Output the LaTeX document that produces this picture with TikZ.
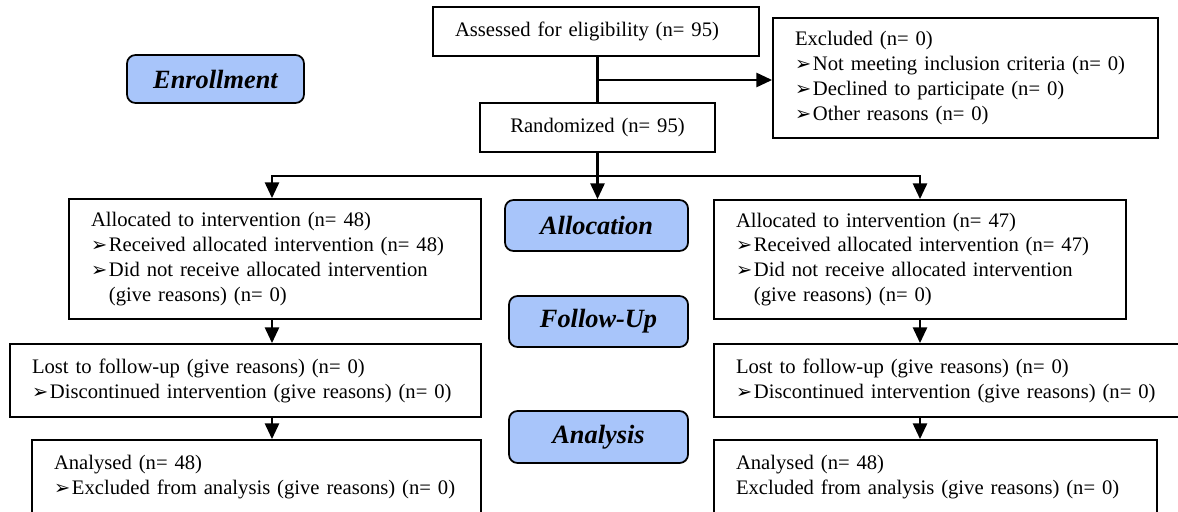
\documentclass[tikz,border=0pt]{standalone}
\usepackage{fontspec}
\setmainfont{Liberation Serif}
\newfontfamily\dejavu{DejaVu Sans}
\usetikzlibrary{arrows.meta}
\definecolor{stageblue}{RGB}{168,197,250}
\newcommand{\bul}{\makebox[10.2pt][l]{\smash{\dejavu\fontsize{11}{11}\selectfont ➢}}}
\newcommand{\ind}{\hspace*{10.2pt}}

\begin{document}
\begin{tikzpicture}[
    box/.style={draw, line width=1pt, inner xsep=0.44cm, inner ysep=0pt,
      align=left, font=\fontsize{11.75}{14.2}\selectfont},
    stage/.style={draw, line width=1pt, fill=stageblue, rounded corners=0.17cm,
      font=\fontsize{15}{18}\selectfont\bfseries\itshape},
    line/.style={line width=1.5pt},
    arrow/.style={line width=1.5pt, -{Triangle[length=9pt,width=8pt]}}]
    \useasboundingbox (0,0) rectangle (23.56,-10.22);
    \clip (0,0) rectangle (23.56,-10.22);
    \node[box, text width=5.64cm, minimum height=0.98cm] (a) at (11.92,-0.63)
      {Assessed for eligibility (n= 95)};
    \node[box, text width=6.82cm, minimum height=2.40cm] (x) at (19.31,-1.56)
      {Excluded (n= 0)\\
       \bul Not meeting inclusion criteria (n= 0)\\
       \bul Declined to participate (n= 0)\\
       \bul Other reasons (n= 0)};
    \node[box, align=center, text width=3.82cm, minimum height=0.98cm] (r) at (11.95,-2.55)
      {Randomized (n= 95)};
    \node[box, text width=7.36cm, minimum height=2.40cm] (l1) at (5.50,-5.18)
      {Allocated to intervention (n= 48)\\
       \bul Received allocated intervention (n= 48)\\
       \bul Did not receive allocated intervention\\
       \ind (give reasons) (n= 0)};
    \node[box, text width=7.36cm, minimum height=2.38cm] (r1) at (18.40,-5.19)
      {Allocated to intervention (n= 47)\\
       \bul Received allocated intervention (n= 47)\\
       \bul Did not receive allocated intervention\\
       \ind (give reasons) (n= 0)};
    \node[box, text width=8.54cm, minimum height=1.46cm] (l2) at (4.91,-7.61)
      {Lost to follow-up (give reasons) (n= 0)\\
       \bul Discontinued intervention (give reasons) (n= 0)};
    \node[box, text width=8.54cm, minimum height=1.46cm] (r2) at (18.99,-7.61)
      {Lost to follow-up (give reasons) (n= 0)\\
       \bul Discontinued intervention (give reasons) (n= 0)};
    \node[box, text width=8.10cm, minimum height=1.48cm] (l3) at (5.13,-9.54)
      {Analysed (n= 48)\\
       \bul Excluded from analysis (give reasons) (n= 0)};
    \node[box, text width=7.98cm, minimum height=1.48cm] (r3) at (18.71,-9.54)
      {Analysed (n= 48)\\
       Excluded from analysis (give reasons) (n= 0)};
    \node[stage, minimum width=3.54cm, minimum height=0.96cm] (e) at (4.31,-1.58) {Enrollment};
    \node[stage, minimum width=3.66cm, minimum height=1.02cm] (al) at (11.93,-4.51) {Allocation};
    \node[stage, minimum width=3.58cm, minimum height=1.02cm] (f) at (11.97,-6.43) {Follow-Up};
    \node[stage, minimum width=3.58cm, minimum height=1.04cm] (an) at (11.97,-8.74) {Analysis};
    \coordinate (s) at (11.95,-1.60);
    \coordinate (t) at (11.95,-3.52);
    \draw[line] (r.north |- a.south) -- (r.north);
    \draw[arrow] (s) -- (s -| x.west);
    \draw[line] (r.south) -- (t);
    \draw[arrow] (t) -- (t |- al.north);
    \draw[arrow] (t) -| (5.44,-3.98 |- l1.north);
    \draw[arrow] (t) -| (r1.north);
    \draw[arrow] (5.44,-6.38 |- l1.south) -- (5.44,-6.38 |- l2.north);
    \draw[arrow] (5.44,-6.38 |- l2.south) -- (5.44,-6.38 |- l3.north);
    \draw[arrow] (r1.south) -- (r1.south |- r2.north);
    \draw[arrow] (r1.south |- r2.south) -- (r1.south |- r3.north);
\end{tikzpicture}
\end{document}
